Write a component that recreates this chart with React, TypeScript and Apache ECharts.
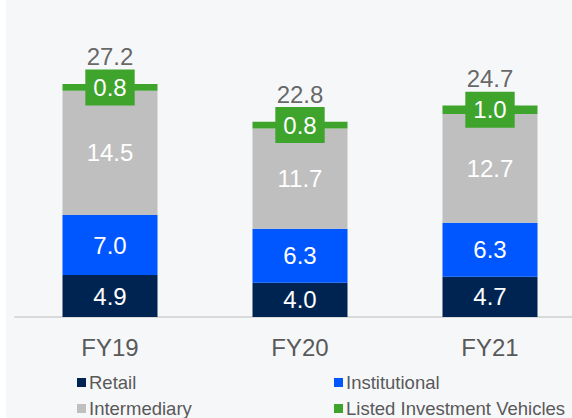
import React, { useEffect, useRef } from "react";
import * as echarts from "echarts";

const categories = ["FY19", "FY20", "FY21"];
const retail = [4.9, 4.0, 4.7];
const institutional = [7.0, 6.3, 6.3];
const intermediary = [14.5, 11.7, 12.7];
const listed = [0.8, 0.8, 1.0];
const totals = [27.2, 22.8, 24.7];

const FONT = "Liberation Sans, Arial, sans-serif";

export default function App() {
  const ref = useRef<HTMLDivElement>(null);
  useEffect(() => {
    if (!ref.current) return;
    const chart = echarts.init(ref.current, undefined, { renderer: "svg" });
    const valueLabel = {
      show: true,
      position: "inside",
      color: "#ffffff",
      fontSize: 24,
      fontFamily: FONT,
      formatter: (p: any) => Number(p.value).toFixed(1),
    };
    const legendBase = {
      itemWidth: 9,
      itemHeight: 9,
      itemGap: 4,
      icon: "rect",
      textStyle: { color: "#595959", fontSize: 18.5, fontFamily: FONT, padding: [0, 0, 0, -2] },
    };
    chart.setOption({
      animation: false,
      backgroundColor: "transparent",
      textStyle: { fontFamily: FONT },
      grid: { left: 15, width: 570, top: 60, height: 257 },
      legend: [
        { ...legendBase, data: ["Retail"], left: 72, top: 368 },
        { ...legendBase, data: ["Institutional"], left: 329, top: 368 },
        { ...legendBase, data: ["Intermediary"], left: 72, top: 394 },
        { ...legendBase, data: ["Listed Investment Vehicles"], left: 329, top: 394 },
      ],
      xAxis: {
        type: "category",
        data: categories,
        axisLine: { show: true, lineStyle: { color: "#d9d9d9", width: 2 } },
        axisTick: { show: false },
        axisLabel: { color: "#595959", fontSize: 24, fontFamily: FONT, margin: 18 },
      },
      yAxis: {
        type: "value",
        min: 0,
        max: 30,
        show: false,
        splitLine: { show: false },
      },
      series: [
        {
          name: "Retail",
          type: "bar",
          stack: "a",
          barWidth: 95,
          data: retail,
          itemStyle: { color: "#002451" },
          label: valueLabel,
        },
        {
          name: "Institutional",
          type: "bar",
          stack: "a",
          data: institutional,
          itemStyle: { color: "#0057ff" },
          label: valueLabel,
        },
        {
          name: "Intermediary",
          type: "bar",
          stack: "a",
          data: intermediary,
          itemStyle: { color: "#bfbfbf" },
          label: valueLabel,
        },
        {
          name: "Listed Investment Vehicles",
          type: "bar",
          stack: "a",
          data: listed,
          itemStyle: { color: "#3ea42c" },
          label: {
            ...valueLabel,
            lineHeight: 24,
            backgroundColor: "#3ea42c",
            padding: [6, 8, 6, 8],
          },
        },
        {
          name: "Total",
          type: "scatter",
          data: totals,
          symbolSize: 0,
          silent: true,
          label: {
            show: true,
            position: "top",
            distance: 15,
            color: "#404040",
            fontSize: 24,
            lineHeight: 24,
            fontFamily: FONT,
            formatter: (p: any) => Number(p.value).toFixed(1),
          },
        },
      ],
    });
    return () => chart.dispose();
  }, []);
  return (
    <div
      style={{
        position: "absolute",
        left: 0,
        top: 0,
        width: 572,
        height: 418,
        overflow: "hidden",
        background: "linear-gradient(to right, #ffffff 6px, #f6f7f9 6px)",
      }}
    >
      <div ref={ref} style={{ width: 600, height: 418 }} />
    </div>
  );
}
